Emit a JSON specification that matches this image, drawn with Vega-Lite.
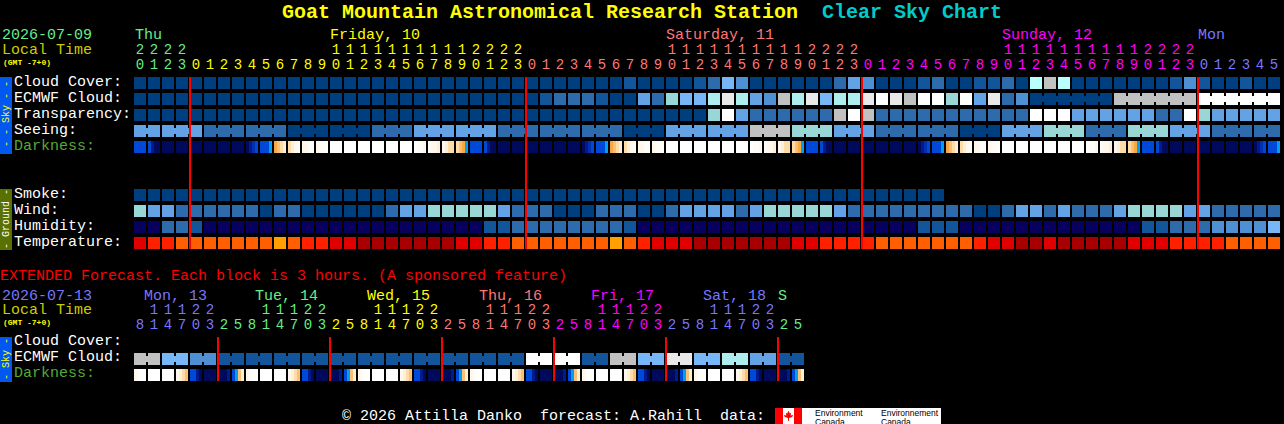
{"$schema":"https://vega.github.io/schema/vega-lite/v6.json","width":1284,"height":424,"padding":0,"autosize":{"type":"none"},"background":"#000000","config":{"view":{"stroke":null}},
"datasets":{
"boxes":[{"h":-10,"h2":-9.143,"l":-0.375,"l2":4.4375,"v":"SB"},{"h":-10,"h2":-9.143,"l":6.625,"l2":10.4375,"v":"SG"},{"h":-10,"h2":-9.143,"l":15.875,"l2":18.6875,"v":"SB"},{"h":45.357,"h2":57.214,"l":20.3125,"l2":21.3125,"v":"w"},{"h":45.357,"h2":45.929,"l":20.3125,"l2":21.3125,"v":"X"},{"h":46.714,"h2":47.286,"l":20.3125,"l2":21.3125,"v":"X"}],
"rules":[{"h":4,"l":-0.375,"l2":10.375,"v":"X"},{"h":28,"l":-0.375,"l2":10.375,"v":"X"},{"h":52,"l":-0.375,"l2":10.375,"v":"X"},{"h":76,"l":-0.375,"l2":10.375,"v":"X"},{"h":6,"l":15.875,"l2":18.625,"v":"X"},{"h":14,"l":15.875,"l2":18.625,"v":"X"},{"h":22,"l":15.875,"l2":18.625,"v":"X"},{"h":30,"l":15.875,"l2":18.625,"v":"X"},{"h":38,"l":15.875,"l2":18.625,"v":"X"},{"h":46,"l":15.875,"l2":18.625,"v":"X"}],
"cells":[
{"h":0,"l":0,"v":"a"},{"h":1,"l":0,"v":"a"},{"h":2,"l":0,"v":"a"},{"h":3,"l":0,"v":"a"},{"h":4,"l":0,"v":"a"},{"h":5,"l":0,"v":"a"},{"h":6,"l":0,"v":"a"},{"h":7,"l":0,"v":"a"},{"h":8,"l":0,"v":"a"},{"h":9,"l":0,"v":"a"},{"h":10,"l":0,"v":"a"},{"h":11,"l":0,"v":"a"},{"h":12,"l":0,"v":"a"},{"h":13,"l":0,"v":"a"},{"h":14,"l":0,"v":"a"},{"h":15,"l":0,"v":"a"},{"h":16,"l":0,"v":"a"},{"h":17,"l":0,"v":"a"},{"h":18,"l":0,"v":"a"},{"h":19,"l":0,"v":"a"},{"h":20,"l":0,"v":"a"},{"h":21,"l":0,"v":"a"},{"h":22,"l":0,"v":"a"},{"h":23,"l":0,"v":"a"},{"h":24,"l":0,"v":"a"},{"h":25,"l":0,"v":"a"},{"h":26,"l":0,"v":"a"},{"h":27,"l":0,"v":"a"},{"h":28,"l":0,"v":"a"},{"h":29,"l":0,"v":"a"},{"h":30,"l":0,"v":"a"},{"h":31,"l":0,"v":"a"},{"h":32,"l":0,"v":"a"},{"h":33,"l":0,"v":"a"},{"h":34,"l":0,"v":"a"},{"h":35,"l":0,"v":"b"},{"h":36,"l":0,"v":"a"},{"h":37,"l":0,"v":"a"},{"h":38,"l":0,"v":"a"},{"h":39,"l":0,"v":"a"},{"h":40,"l":0,"v":"b"},{"h":41,"l":0,"v":"c"},{"h":42,"l":0,"v":"f"},{"h":43,"l":0,"v":"d"},{"h":44,"l":0,"v":"a"},{"h":45,"l":0,"v":"a"},{"h":46,"l":0,"v":"a"},{"h":47,"l":0,"v":"a"},{"h":48,"l":0,"v":"a"},{"h":49,"l":0,"v":"a"},{"h":50,"l":0,"v":"c"},{"h":51,"l":0,"v":"e"},{"h":52,"l":0,"v":"d"},{"h":53,"l":0,"v":"a"},{"h":54,"l":0,"v":"a"},{"h":55,"l":0,"v":"a"},{"h":56,"l":0,"v":"b"},{"h":57,"l":0,"v":"c"},{"h":58,"l":0,"v":"a"},{"h":59,"l":0,"v":"a"},{"h":60,"l":0,"v":"b"},{"h":61,"l":0,"v":"b"},{"h":62,"l":0,"v":"c"},{"h":63,"l":0,"v":"a"},{"h":64,"l":0,"v":"q"},{"h":65,"l":0,"v":"k"},{"h":66,"l":0,"v":"q"},{"h":67,"l":0,"v":"a"},{"h":68,"l":0,"v":"a"},{"h":69,"l":0,"v":"a"},{"h":70,"l":0,"v":"a"},{"h":71,"l":0,"v":"a"},{"h":72,"l":0,"v":"a"},{"h":73,"l":0,"v":"a"},{"h":74,"l":0,"v":"b"},{"h":75,"l":0,"v":"d"},{"h":76,"l":0,"v":"b"},{"h":77,"l":0,"v":"a"},{"h":78,"l":0,"v":"a"},{"h":79,"l":0,"v":"b"},{"h":80,"l":0,"v":"a"},{"h":81,"l":0,"v":"a"},
{"h":0,"l":1,"v":"a"},{"h":1,"l":1,"v":"a"},{"h":2,"l":1,"v":"a"},{"h":3,"l":1,"v":"a"},{"h":4,"l":1,"v":"a"},{"h":5,"l":1,"v":"a"},{"h":6,"l":1,"v":"a"},{"h":7,"l":1,"v":"a"},{"h":8,"l":1,"v":"a"},{"h":9,"l":1,"v":"a"},{"h":10,"l":1,"v":"a"},{"h":11,"l":1,"v":"a"},{"h":12,"l":1,"v":"a"},{"h":13,"l":1,"v":"a"},{"h":14,"l":1,"v":"a"},{"h":15,"l":1,"v":"a"},{"h":16,"l":1,"v":"a"},{"h":17,"l":1,"v":"a"},{"h":18,"l":1,"v":"a"},{"h":19,"l":1,"v":"a"},{"h":20,"l":1,"v":"a"},{"h":21,"l":1,"v":"a"},{"h":22,"l":1,"v":"a"},{"h":23,"l":1,"v":"a"},{"h":24,"l":1,"v":"a"},{"h":25,"l":1,"v":"a"},{"h":26,"l":1,"v":"a"},{"h":27,"l":1,"v":"a"},{"h":28,"l":1,"v":"a"},{"h":29,"l":1,"v":"b"},{"h":30,"l":1,"v":"c"},{"h":31,"l":1,"v":"c"},{"h":32,"l":1,"v":"c"},{"h":33,"l":1,"v":"b"},{"h":34,"l":1,"v":"a"},{"h":35,"l":1,"v":"a"},{"h":36,"l":1,"v":"e"},{"h":37,"l":1,"v":"c"},{"h":38,"l":1,"v":"g"},{"h":39,"l":1,"v":"f"},{"h":40,"l":1,"v":"f"},{"h":41,"l":1,"v":"h"},{"h":42,"l":1,"v":"m"},{"h":43,"l":1,"v":"h"},{"h":44,"l":1,"v":"e"},{"h":45,"l":1,"v":"d"},{"h":46,"l":1,"v":"k"},{"h":47,"l":1,"v":"h"},{"h":48,"l":1,"v":"m"},{"h":49,"l":1,"v":"f"},{"h":50,"l":1,"v":"h"},{"h":51,"l":1,"v":"h"},{"h":52,"l":1,"v":"m"},{"h":53,"l":1,"v":"w"},{"h":54,"l":1,"v":"m"},{"h":55,"l":1,"v":"k"},{"h":56,"l":1,"v":"w"},{"h":57,"l":1,"v":"w"},{"h":58,"l":1,"v":"g"},{"h":59,"l":1,"v":"w"},{"h":60,"l":1,"v":"e"},{"h":61,"l":1,"v":"m"},{"h":62,"l":1,"v":"c"},{"h":63,"l":1,"v":"d"},{"h":64,"l":1,"v":"a","j":1},{"h":65,"l":1,"v":"a","j":1},{"h":66,"l":1,"v":"a","j":1},{"h":67,"l":1,"v":"a","j":1},{"h":68,"l":1,"v":"a","j":1},{"h":69,"l":1,"v":"a"},{"h":70,"l":1,"v":"k","j":1},{"h":71,"l":1,"v":"k","j":1},{"h":72,"l":1,"v":"k","j":1},{"h":73,"l":1,"v":"k","j":1},{"h":74,"l":1,"v":"k","j":1},{"h":75,"l":1,"v":"k"},{"h":76,"l":1,"v":"w","j":1},{"h":77,"l":1,"v":"w","j":1},{"h":78,"l":1,"v":"w","j":1},{"h":79,"l":1,"v":"w","j":1},{"h":80,"l":1,"v":"w","j":1},{"h":81,"l":1,"v":"w"},
{"h":0,"l":2,"v":"a"},{"h":1,"l":2,"v":"a"},{"h":2,"l":2,"v":"a"},{"h":3,"l":2,"v":"a"},{"h":4,"l":2,"v":"a"},{"h":5,"l":2,"v":"a"},{"h":6,"l":2,"v":"a"},{"h":7,"l":2,"v":"a"},{"h":8,"l":2,"v":"a"},{"h":9,"l":2,"v":"a"},{"h":10,"l":2,"v":"a"},{"h":11,"l":2,"v":"a"},{"h":12,"l":2,"v":"a"},{"h":13,"l":2,"v":"a"},{"h":14,"l":2,"v":"a"},{"h":15,"l":2,"v":"a"},{"h":16,"l":2,"v":"a"},{"h":17,"l":2,"v":"a"},{"h":18,"l":2,"v":"a"},{"h":19,"l":2,"v":"a"},{"h":20,"l":2,"v":"a"},{"h":21,"l":2,"v":"a"},{"h":22,"l":2,"v":"a"},{"h":23,"l":2,"v":"a"},{"h":24,"l":2,"v":"a"},{"h":25,"l":2,"v":"a"},{"h":26,"l":2,"v":"a"},{"h":27,"l":2,"v":"a"},{"h":28,"l":2,"v":"a"},{"h":29,"l":2,"v":"a"},{"h":30,"l":2,"v":"a"},{"h":31,"l":2,"v":"a"},{"h":32,"l":2,"v":"a"},{"h":33,"l":2,"v":"a"},{"h":34,"l":2,"v":"a"},{"h":35,"l":2,"v":"a"},{"h":36,"l":2,"v":"a"},{"h":37,"l":2,"v":"a"},{"h":38,"l":2,"v":"a"},{"h":39,"l":2,"v":"a"},{"h":40,"l":2,"v":"a"},{"h":41,"l":2,"v":"g"},{"h":42,"l":2,"v":"w"},{"h":43,"l":2,"v":"e"},{"h":44,"l":2,"v":"c"},{"h":45,"l":2,"v":"c"},{"h":46,"l":2,"v":"c"},{"h":47,"l":2,"v":"c"},{"h":48,"l":2,"v":"c"},{"h":49,"l":2,"v":"c"},{"h":50,"l":2,"v":"k"},{"h":51,"l":2,"v":"w"},{"h":52,"l":2,"v":"k"},{"h":53,"l":2,"v":"c"},{"h":54,"l":2,"v":"c"},{"h":55,"l":2,"v":"c"},{"h":56,"l":2,"v":"c"},{"h":57,"l":2,"v":"c"},{"h":58,"l":2,"v":"c"},{"h":59,"l":2,"v":"c"},{"h":60,"l":2,"v":"c"},{"h":61,"l":2,"v":"c"},{"h":62,"l":2,"v":"c"},{"h":63,"l":2,"v":"c"},{"h":64,"l":2,"v":"w"},{"h":65,"l":2,"v":"w"},{"h":66,"l":2,"v":"w"},{"h":67,"l":2,"v":"e"},{"h":68,"l":2,"v":"e"},{"h":69,"l":2,"v":"e"},{"h":70,"l":2,"v":"e"},{"h":71,"l":2,"v":"e"},{"h":72,"l":2,"v":"e"},{"h":73,"l":2,"v":"c"},{"h":74,"l":2,"v":"c"},{"h":75,"l":2,"v":"w"},{"h":76,"l":2,"v":"g"},{"h":77,"l":2,"v":"e"},{"h":78,"l":2,"v":"e"},{"h":79,"l":2,"v":"e"},{"h":80,"l":2,"v":"e"},{"h":81,"l":2,"v":"e"},
{"h":0,"l":3,"v":"e","j":1},{"h":1,"l":3,"v":"e"},{"h":2,"l":3,"v":"e","j":1},{"h":3,"l":3,"v":"e","j":1},{"h":4,"l":3,"v":"e"},{"h":5,"l":3,"v":"c","j":1},{"h":6,"l":3,"v":"c","j":1},{"h":7,"l":3,"v":"c"},{"h":8,"l":3,"v":"c","j":1},{"h":9,"l":3,"v":"c","j":1},{"h":10,"l":3,"v":"c"},{"h":11,"l":3,"v":"a","j":1},{"h":12,"l":3,"v":"a","j":1},{"h":13,"l":3,"v":"a"},{"h":14,"l":3,"v":"a","j":1},{"h":15,"l":3,"v":"a","j":1},{"h":16,"l":3,"v":"a"},{"h":17,"l":3,"v":"c","j":1},{"h":18,"l":3,"v":"c","j":1},{"h":19,"l":3,"v":"c"},{"h":20,"l":3,"v":"e","j":1},{"h":21,"l":3,"v":"e","j":1},{"h":22,"l":3,"v":"e"},{"h":23,"l":3,"v":"e","j":1},{"h":24,"l":3,"v":"e","j":1},{"h":25,"l":3,"v":"e"},{"h":26,"l":3,"v":"c","j":1},{"h":27,"l":3,"v":"c","j":1},{"h":28,"l":3,"v":"c"},{"h":29,"l":3,"v":"c","j":1},{"h":30,"l":3,"v":"c","j":1},{"h":31,"l":3,"v":"c"},{"h":32,"l":3,"v":"c","j":1},{"h":33,"l":3,"v":"c","j":1},{"h":34,"l":3,"v":"c"},{"h":35,"l":3,"v":"a","j":1},{"h":36,"l":3,"v":"a","j":1},{"h":37,"l":3,"v":"a"},{"h":38,"l":3,"v":"e","j":1},{"h":39,"l":3,"v":"e","j":1},{"h":40,"l":3,"v":"e"},{"h":41,"l":3,"v":"e","j":1},{"h":42,"l":3,"v":"e","j":1},{"h":43,"l":3,"v":"e"},{"h":44,"l":3,"v":"k","j":1},{"h":45,"l":3,"v":"k","j":1},{"h":46,"l":3,"v":"k"},{"h":47,"l":3,"v":"g","j":1},{"h":48,"l":3,"v":"g","j":1},{"h":49,"l":3,"v":"g"},{"h":50,"l":3,"v":"e","j":1},{"h":51,"l":3,"v":"e","j":1},{"h":52,"l":3,"v":"e"},{"h":53,"l":3,"v":"c","j":1},{"h":54,"l":3,"v":"c","j":1},{"h":55,"l":3,"v":"c"},{"h":56,"l":3,"v":"c","j":1},{"h":57,"l":3,"v":"c","j":1},{"h":58,"l":3,"v":"c"},{"h":59,"l":3,"v":"a","j":1},{"h":60,"l":3,"v":"a","j":1},{"h":61,"l":3,"v":"a"},{"h":62,"l":3,"v":"e","j":1},{"h":63,"l":3,"v":"e","j":1},{"h":64,"l":3,"v":"e"},{"h":65,"l":3,"v":"g","j":1},{"h":66,"l":3,"v":"g","j":1},{"h":67,"l":3,"v":"g"},{"h":68,"l":3,"v":"c","j":1},{"h":69,"l":3,"v":"c","j":1},{"h":70,"l":3,"v":"c"},{"h":71,"l":3,"v":"g","j":1},{"h":72,"l":3,"v":"g","j":1},{"h":73,"l":3,"v":"g"},{"h":74,"l":3,"v":"e","j":1},{"h":75,"l":3,"v":"e","j":1},{"h":76,"l":3,"v":"e"},{"h":77,"l":3,"v":"c","j":1},{"h":78,"l":3,"v":"c","j":1},{"h":79,"l":3,"v":"c"},{"h":80,"l":3,"v":"c","j":1},{"h":81,"l":3,"v":"c"},
{"h":0,"l":4,"v":"B"},{"h":2,"l":4,"v":"N"},{"h":3,"l":4,"v":"N"},{"h":4,"l":4,"v":"N"},{"h":5,"l":4,"v":"N"},{"h":6,"l":4,"v":"N"},{"h":7,"l":4,"v":"N"},{"h":14,"l":4,"v":"w"},{"h":15,"l":4,"v":"w"},{"h":16,"l":4,"v":"w"},{"h":17,"l":4,"v":"w"},{"h":18,"l":4,"v":"w"},{"h":19,"l":4,"v":"w"},{"h":24,"l":4,"v":"B"},{"h":26,"l":4,"v":"N"},{"h":27,"l":4,"v":"N"},{"h":28,"l":4,"v":"N"},{"h":29,"l":4,"v":"N"},{"h":30,"l":4,"v":"N"},{"h":31,"l":4,"v":"N"},{"h":38,"l":4,"v":"w"},{"h":39,"l":4,"v":"w"},{"h":40,"l":4,"v":"w"},{"h":41,"l":4,"v":"w"},{"h":42,"l":4,"v":"w"},{"h":43,"l":4,"v":"w"},{"h":48,"l":4,"v":"B"},{"h":50,"l":4,"v":"N"},{"h":51,"l":4,"v":"N"},{"h":52,"l":4,"v":"N"},{"h":53,"l":4,"v":"N"},{"h":54,"l":4,"v":"N"},{"h":55,"l":4,"v":"N"},{"h":62,"l":4,"v":"w"},{"h":63,"l":4,"v":"w"},{"h":64,"l":4,"v":"w"},{"h":65,"l":4,"v":"w"},{"h":66,"l":4,"v":"w"},{"h":67,"l":4,"v":"w"},{"h":72,"l":4,"v":"B"},{"h":74,"l":4,"v":"N"},{"h":75,"l":4,"v":"N"},{"h":76,"l":4,"v":"N"},{"h":77,"l":4,"v":"N"},{"h":78,"l":4,"v":"N"},{"h":79,"l":4,"v":"N"},
{"h":0,"l":7,"v":"a"},{"h":1,"l":7,"v":"a"},{"h":2,"l":7,"v":"a"},{"h":3,"l":7,"v":"a"},{"h":4,"l":7,"v":"a"},{"h":5,"l":7,"v":"a"},{"h":6,"l":7,"v":"a"},{"h":7,"l":7,"v":"a"},{"h":8,"l":7,"v":"a"},{"h":9,"l":7,"v":"a"},{"h":10,"l":7,"v":"a"},{"h":11,"l":7,"v":"a"},{"h":12,"l":7,"v":"a"},{"h":13,"l":7,"v":"a"},{"h":14,"l":7,"v":"a"},{"h":15,"l":7,"v":"a"},{"h":16,"l":7,"v":"a"},{"h":17,"l":7,"v":"a"},{"h":18,"l":7,"v":"a"},{"h":19,"l":7,"v":"a"},{"h":20,"l":7,"v":"a"},{"h":21,"l":7,"v":"a"},{"h":22,"l":7,"v":"a"},{"h":23,"l":7,"v":"a"},{"h":24,"l":7,"v":"a"},{"h":25,"l":7,"v":"a"},{"h":26,"l":7,"v":"a"},{"h":27,"l":7,"v":"a"},{"h":28,"l":7,"v":"a"},{"h":29,"l":7,"v":"a"},{"h":30,"l":7,"v":"a"},{"h":31,"l":7,"v":"a"},{"h":32,"l":7,"v":"a"},{"h":33,"l":7,"v":"a"},{"h":34,"l":7,"v":"a"},{"h":35,"l":7,"v":"a"},{"h":36,"l":7,"v":"a"},{"h":37,"l":7,"v":"a"},{"h":38,"l":7,"v":"a"},{"h":39,"l":7,"v":"a"},{"h":40,"l":7,"v":"a"},{"h":41,"l":7,"v":"a"},{"h":42,"l":7,"v":"a"},{"h":43,"l":7,"v":"a"},{"h":44,"l":7,"v":"a"},{"h":45,"l":7,"v":"a"},{"h":46,"l":7,"v":"a"},{"h":47,"l":7,"v":"a"},{"h":48,"l":7,"v":"a"},{"h":49,"l":7,"v":"a"},{"h":50,"l":7,"v":"a"},{"h":51,"l":7,"v":"a"},{"h":52,"l":7,"v":"a"},{"h":53,"l":7,"v":"a"},{"h":54,"l":7,"v":"a"},{"h":55,"l":7,"v":"a"},{"h":56,"l":7,"v":"a"},{"h":57,"l":7,"v":"a"},
{"h":0,"l":8,"v":"g"},{"h":1,"l":8,"v":"e"},{"h":2,"l":8,"v":"e"},{"h":3,"l":8,"v":"c"},{"h":4,"l":8,"v":"c"},{"h":5,"l":8,"v":"c"},{"h":6,"l":8,"v":"c"},{"h":7,"l":8,"v":"c"},{"h":8,"l":8,"v":"c"},{"h":9,"l":8,"v":"a"},{"h":10,"l":8,"v":"c"},{"h":11,"l":8,"v":"c"},{"h":12,"l":8,"v":"a"},{"h":13,"l":8,"v":"a"},{"h":14,"l":8,"v":"a"},{"h":15,"l":8,"v":"a"},{"h":16,"l":8,"v":"a"},{"h":17,"l":8,"v":"a"},{"h":18,"l":8,"v":"c"},{"h":19,"l":8,"v":"e"},{"h":20,"l":8,"v":"e"},{"h":21,"l":8,"v":"g"},{"h":22,"l":8,"v":"g"},{"h":23,"l":8,"v":"g"},{"h":24,"l":8,"v":"g"},{"h":25,"l":8,"v":"g"},{"h":26,"l":8,"v":"e"},{"h":27,"l":8,"v":"c"},{"h":28,"l":8,"v":"c"},{"h":29,"l":8,"v":"c"},{"h":30,"l":8,"v":"a"},{"h":31,"l":8,"v":"a"},{"h":32,"l":8,"v":"a"},{"h":33,"l":8,"v":"c"},{"h":34,"l":8,"v":"c"},{"h":35,"l":8,"v":"c"},{"h":36,"l":8,"v":"a"},{"h":37,"l":8,"v":"a"},{"h":38,"l":8,"v":"c"},{"h":39,"l":8,"v":"e"},{"h":40,"l":8,"v":"e"},{"h":41,"l":8,"v":"e"},{"h":42,"l":8,"v":"e"},{"h":43,"l":8,"v":"c"},{"h":44,"l":8,"v":"e"},{"h":45,"l":8,"v":"g"},{"h":46,"l":8,"v":"g"},{"h":47,"l":8,"v":"g"},{"h":48,"l":8,"v":"g"},{"h":49,"l":8,"v":"g"},{"h":50,"l":8,"v":"e"},{"h":51,"l":8,"v":"c"},{"h":52,"l":8,"v":"c"},{"h":53,"l":8,"v":"c"},{"h":54,"l":8,"v":"c"},{"h":55,"l":8,"v":"c"},{"h":56,"l":8,"v":"c"},{"h":57,"l":8,"v":"c"},{"h":58,"l":8,"v":"c"},{"h":59,"l":8,"v":"c"},{"h":60,"l":8,"v":"a"},{"h":61,"l":8,"v":"a"},{"h":62,"l":8,"v":"c"},{"h":63,"l":8,"v":"e"},{"h":64,"l":8,"v":"e"},{"h":65,"l":8,"v":"c"},{"h":66,"l":8,"v":"e"},{"h":67,"l":8,"v":"c"},{"h":68,"l":8,"v":"c"},{"h":69,"l":8,"v":"c"},{"h":70,"l":8,"v":"e"},{"h":71,"l":8,"v":"g"},{"h":72,"l":8,"v":"g"},{"h":73,"l":8,"v":"g"},{"h":74,"l":8,"v":"g"},{"h":75,"l":8,"v":"e"},{"h":76,"l":8,"v":"e"},{"h":77,"l":8,"v":"c"},{"h":78,"l":8,"v":"c"},{"h":79,"l":8,"v":"c"},{"h":80,"l":8,"v":"c"},{"h":81,"l":8,"v":"c"},
{"h":0,"l":9,"v":"n"},{"h":1,"l":9,"v":"n"},{"h":2,"l":9,"v":"c"},{"h":3,"l":9,"v":"c"},{"h":4,"l":9,"v":"b"},{"h":5,"l":9,"v":"n"},{"h":6,"l":9,"v":"n"},{"h":7,"l":9,"v":"n"},{"h":8,"l":9,"v":"n"},{"h":9,"l":9,"v":"n"},{"h":10,"l":9,"v":"n"},{"h":11,"l":9,"v":"n"},{"h":12,"l":9,"v":"n"},{"h":13,"l":9,"v":"n"},{"h":14,"l":9,"v":"n"},{"h":15,"l":9,"v":"n"},{"h":16,"l":9,"v":"n"},{"h":17,"l":9,"v":"n"},{"h":18,"l":9,"v":"n"},{"h":19,"l":9,"v":"n"},{"h":20,"l":9,"v":"n"},{"h":21,"l":9,"v":"n"},{"h":22,"l":9,"v":"n"},{"h":23,"l":9,"v":"n"},{"h":24,"l":9,"v":"n"},{"h":25,"l":9,"v":"b"},{"h":26,"l":9,"v":"b"},{"h":27,"l":9,"v":"c"},{"h":28,"l":9,"v":"c"},{"h":29,"l":9,"v":"c"},{"h":30,"l":9,"v":"c"},{"h":31,"l":9,"v":"c"},{"h":32,"l":9,"v":"c"},{"h":33,"l":9,"v":"c"},{"h":34,"l":9,"v":"c"},{"h":35,"l":9,"v":"b"},{"h":36,"l":9,"v":"n"},{"h":37,"l":9,"v":"n"},{"h":38,"l":9,"v":"n"},{"h":39,"l":9,"v":"n"},{"h":40,"l":9,"v":"n"},{"h":41,"l":9,"v":"n"},{"h":42,"l":9,"v":"n"},{"h":43,"l":9,"v":"n"},{"h":44,"l":9,"v":"n"},{"h":45,"l":9,"v":"n"},{"h":46,"l":9,"v":"n"},{"h":47,"l":9,"v":"n"},{"h":48,"l":9,"v":"n"},{"h":49,"l":9,"v":"n"},{"h":50,"l":9,"v":"n"},{"h":51,"l":9,"v":"n"},{"h":52,"l":9,"v":"n"},{"h":53,"l":9,"v":"n"},{"h":54,"l":9,"v":"n"},{"h":55,"l":9,"v":"n"},{"h":56,"l":9,"v":"b"},{"h":57,"l":9,"v":"b"},{"h":58,"l":9,"v":"b"},{"h":59,"l":9,"v":"n"},{"h":60,"l":9,"v":"n"},{"h":61,"l":9,"v":"n"},{"h":62,"l":9,"v":"n"},{"h":63,"l":9,"v":"n"},{"h":64,"l":9,"v":"n"},{"h":65,"l":9,"v":"n"},{"h":66,"l":9,"v":"n"},{"h":67,"l":9,"v":"n"},{"h":68,"l":9,"v":"n"},{"h":69,"l":9,"v":"n"},{"h":70,"l":9,"v":"n"},{"h":71,"l":9,"v":"n"},{"h":72,"l":9,"v":"b"},{"h":73,"l":9,"v":"b"},{"h":74,"l":9,"v":"c"},{"h":75,"l":9,"v":"c"},{"h":76,"l":9,"v":"c"},{"h":77,"l":9,"v":"d"},{"h":78,"l":9,"v":"d"},{"h":79,"l":9,"v":"d"},{"h":80,"l":9,"v":"d"},{"h":81,"l":9,"v":"f"},
{"h":0,"l":10,"v":"s"},{"h":1,"l":10,"v":"t"},{"h":2,"l":10,"v":"t"},{"h":3,"l":10,"v":"u"},{"h":4,"l":10,"v":"u"},{"h":5,"l":10,"v":"u"},{"h":6,"l":10,"v":"u"},{"h":7,"l":10,"v":"u"},{"h":8,"l":10,"v":"u"},{"h":9,"l":10,"v":"u"},{"h":10,"l":10,"v":"x"},{"h":11,"l":10,"v":"u"},{"h":12,"l":10,"v":"t"},{"h":13,"l":10,"v":"t"},{"h":14,"l":10,"v":"s"},{"h":15,"l":10,"v":"s"},{"h":16,"l":10,"v":"r"},{"h":17,"l":10,"v":"r"},{"h":18,"l":10,"v":"r"},{"h":19,"l":10,"v":"r"},{"h":20,"l":10,"v":"r"},{"h":21,"l":10,"v":"r"},{"h":22,"l":10,"v":"r"},{"h":23,"l":10,"v":"s"},{"h":24,"l":10,"v":"s"},{"h":25,"l":10,"v":"t"},{"h":26,"l":10,"v":"t"},{"h":27,"l":10,"v":"u"},{"h":28,"l":10,"v":"u"},{"h":29,"l":10,"v":"u"},{"h":30,"l":10,"v":"u"},{"h":31,"l":10,"v":"u"},{"h":32,"l":10,"v":"u"},{"h":33,"l":10,"v":"u"},{"h":34,"l":10,"v":"x"},{"h":35,"l":10,"v":"u"},{"h":36,"l":10,"v":"t"},{"h":37,"l":10,"v":"s"},{"h":38,"l":10,"v":"s"},{"h":39,"l":10,"v":"s"},{"h":40,"l":10,"v":"r"},{"h":41,"l":10,"v":"r"},{"h":42,"l":10,"v":"r"},{"h":43,"l":10,"v":"r"},{"h":44,"l":10,"v":"r"},{"h":45,"l":10,"v":"r"},{"h":46,"l":10,"v":"r"},{"h":47,"l":10,"v":"s"},{"h":48,"l":10,"v":"s"},{"h":49,"l":10,"v":"t"},{"h":50,"l":10,"v":"t"},{"h":51,"l":10,"v":"t"},{"h":52,"l":10,"v":"t"},{"h":53,"l":10,"v":"u"},{"h":54,"l":10,"v":"u"},{"h":55,"l":10,"v":"u"},{"h":56,"l":10,"v":"u"},{"h":57,"l":10,"v":"u"},{"h":58,"l":10,"v":"u"},{"h":59,"l":10,"v":"u"},{"h":60,"l":10,"v":"t"},{"h":61,"l":10,"v":"s"},{"h":62,"l":10,"v":"s"},{"h":63,"l":10,"v":"r"},{"h":64,"l":10,"v":"r"},{"h":65,"l":10,"v":"s"},{"h":66,"l":10,"v":"r"},{"h":67,"l":10,"v":"r"},{"h":68,"l":10,"v":"r"},{"h":69,"l":10,"v":"r"},{"h":70,"l":10,"v":"r"},{"h":71,"l":10,"v":"s"},{"h":72,"l":10,"v":"s"},{"h":73,"l":10,"v":"s"},{"h":74,"l":10,"v":"t"},{"h":75,"l":10,"v":"t"},{"h":76,"l":10,"v":"t"},{"h":77,"l":10,"v":"t"},{"h":78,"l":10,"v":"u"},{"h":79,"l":10,"v":"u"},{"h":80,"l":10,"v":"u"},{"h":81,"l":10,"v":"u"},
{"h":0,"l":17.25,"v":"k","j":1},{"h":1,"l":17.25,"v":"k"},{"h":2,"l":17.25,"v":"f","j":1},{"h":3,"l":17.25,"v":"f"},{"h":4,"l":17.25,"v":"d","j":1},{"h":5,"l":17.25,"v":"d"},{"h":6,"l":17.25,"v":"b","j":1},{"h":7,"l":17.25,"v":"b"},{"h":8,"l":17.25,"v":"b","j":1},{"h":9,"l":17.25,"v":"b"},{"h":10,"l":17.25,"v":"b","j":1},{"h":11,"l":17.25,"v":"b"},{"h":12,"l":17.25,"v":"b","j":1},{"h":13,"l":17.25,"v":"b"},{"h":14,"l":17.25,"v":"b","j":1},{"h":15,"l":17.25,"v":"b"},{"h":16,"l":17.25,"v":"b","j":1},{"h":17,"l":17.25,"v":"b"},{"h":18,"l":17.25,"v":"b","j":1},{"h":19,"l":17.25,"v":"b"},{"h":20,"l":17.25,"v":"b","j":1},{"h":21,"l":17.25,"v":"b"},{"h":22,"l":17.25,"v":"b","j":1},{"h":23,"l":17.25,"v":"b"},{"h":24,"l":17.25,"v":"b","j":1},{"h":25,"l":17.25,"v":"b"},{"h":26,"l":17.25,"v":"b","j":1},{"h":27,"l":17.25,"v":"b"},{"h":28,"l":17.25,"v":"w","j":1},{"h":29,"l":17.25,"v":"w"},{"h":30,"l":17.25,"v":"w","j":1},{"h":31,"l":17.25,"v":"w"},{"h":32,"l":17.25,"v":"b","j":1},{"h":33,"l":17.25,"v":"b"},{"h":34,"l":17.25,"v":"k","j":1},{"h":35,"l":17.25,"v":"k"},{"h":36,"l":17.25,"v":"f","j":1},{"h":37,"l":17.25,"v":"f"},{"h":38,"l":17.25,"v":"m","j":1},{"h":39,"l":17.25,"v":"m"},{"h":40,"l":17.25,"v":"f","j":1},{"h":41,"l":17.25,"v":"f"},{"h":42,"l":17.25,"v":"h","j":1},{"h":43,"l":17.25,"v":"h"},{"h":44,"l":17.25,"v":"e","j":1},{"h":45,"l":17.25,"v":"e"},{"h":46,"l":17.25,"v":"b","j":1},{"h":47,"l":17.25,"v":"b"},
{"h":1,"l":18.25,"v":"w"},{"h":2,"l":18.25,"v":"w"},{"h":5,"l":18.25,"v":"N"},{"h":9,"l":18.25,"v":"w"},{"h":10,"l":18.25,"v":"w"},{"h":13,"l":18.25,"v":"N"},{"h":17,"l":18.25,"v":"w"},{"h":18,"l":18.25,"v":"w"},{"h":21,"l":18.25,"v":"N"},{"h":25,"l":18.25,"v":"w"},{"h":26,"l":18.25,"v":"w"},{"h":29,"l":18.25,"v":"N"},{"h":33,"l":18.25,"v":"w"},{"h":34,"l":18.25,"v":"w"},{"h":37,"l":18.25,"v":"N"},{"h":41,"l":18.25,"v":"w"},{"h":42,"l":18.25,"v":"w"},{"h":45,"l":18.25,"v":"N"}
],
"subs":[
{"h":1,"l":4,"q":0,"v":"B"},{"h":1,"l":4,"q":1,"v":"D"},{"h":1,"l":4,"q":2,"v":"N"},{"h":1,"l":4,"q":3,"v":"N"},
{"h":8,"l":4,"q":0,"v":"N"},{"h":8,"l":4,"q":1,"v":"D"},{"h":8,"l":4,"q":2,"v":"C"},{"h":8,"l":4,"q":3,"v":"B"},{"h":9,"l":4,"q":0,"v":"B"},{"h":9,"l":4,"q":1,"v":"B"},{"h":9,"l":4,"q":2,"v":"B"},{"h":9,"l":4,"q":3,"v":"L"},{"h":10,"l":4,"q":0,"v":"P"},{"h":10,"l":4,"q":1,"v":"Q"},{"h":10,"l":4,"q":2,"v":"R"},{"h":10,"l":4,"q":3,"v":"S"},{"h":11,"l":4,"q":0,"v":"R"},{"h":11,"l":4,"q":1,"v":"S"},{"h":11,"l":4,"q":2,"v":"T"},{"h":11,"l":4,"q":3,"v":"U"},{"h":12,"l":4,"q":0,"v":"T"},{"h":12,"l":4,"q":1,"v":"T"},{"h":12,"l":4,"q":2,"v":"U"},{"h":12,"l":4,"q":3,"v":"U"},{"h":13,"l":4,"q":0,"v":"T"},{"h":13,"l":4,"q":1,"v":"U"},{"h":13,"l":4,"q":2,"v":"U"},{"h":13,"l":4,"q":3,"v":"w"},
{"h":20,"l":4,"q":0,"v":"w"},{"h":20,"l":4,"q":1,"v":"U"},{"h":20,"l":4,"q":2,"v":"U"},{"h":20,"l":4,"q":3,"v":"T"},{"h":21,"l":4,"q":0,"v":"U"},{"h":21,"l":4,"q":1,"v":"T"},{"h":21,"l":4,"q":2,"v":"T"},{"h":21,"l":4,"q":3,"v":"S"},{"h":22,"l":4,"q":0,"v":"T"},{"h":22,"l":4,"q":1,"v":"S"},{"h":22,"l":4,"q":2,"v":"R"},{"h":22,"l":4,"q":3,"v":"R"},{"h":23,"l":4,"q":0,"v":"R"},{"h":23,"l":4,"q":1,"v":"Q"},{"h":23,"l":4,"q":2,"v":"P"},{"h":23,"l":4,"q":3,"v":"L"},
{"h":25,"l":4,"q":0,"v":"B"},{"h":25,"l":4,"q":1,"v":"D"},{"h":25,"l":4,"q":2,"v":"N"},{"h":25,"l":4,"q":3,"v":"N"},
{"h":32,"l":4,"q":0,"v":"N"},{"h":32,"l":4,"q":1,"v":"D"},{"h":32,"l":4,"q":2,"v":"C"},{"h":32,"l":4,"q":3,"v":"B"},{"h":33,"l":4,"q":0,"v":"B"},{"h":33,"l":4,"q":1,"v":"B"},{"h":33,"l":4,"q":2,"v":"B"},{"h":33,"l":4,"q":3,"v":"L"},{"h":34,"l":4,"q":0,"v":"P"},{"h":34,"l":4,"q":1,"v":"Q"},{"h":34,"l":4,"q":2,"v":"R"},{"h":34,"l":4,"q":3,"v":"S"},{"h":35,"l":4,"q":0,"v":"R"},{"h":35,"l":4,"q":1,"v":"S"},{"h":35,"l":4,"q":2,"v":"T"},{"h":35,"l":4,"q":3,"v":"U"},{"h":36,"l":4,"q":0,"v":"T"},{"h":36,"l":4,"q":1,"v":"T"},{"h":36,"l":4,"q":2,"v":"U"},{"h":36,"l":4,"q":3,"v":"U"},{"h":37,"l":4,"q":0,"v":"T"},{"h":37,"l":4,"q":1,"v":"U"},{"h":37,"l":4,"q":2,"v":"U"},{"h":37,"l":4,"q":3,"v":"w"},
{"h":44,"l":4,"q":0,"v":"w"},{"h":44,"l":4,"q":1,"v":"U"},{"h":44,"l":4,"q":2,"v":"U"},{"h":44,"l":4,"q":3,"v":"T"},{"h":45,"l":4,"q":0,"v":"U"},{"h":45,"l":4,"q":1,"v":"T"},{"h":45,"l":4,"q":2,"v":"T"},{"h":45,"l":4,"q":3,"v":"S"},{"h":46,"l":4,"q":0,"v":"T"},{"h":46,"l":4,"q":1,"v":"S"},{"h":46,"l":4,"q":2,"v":"R"},{"h":46,"l":4,"q":3,"v":"R"},{"h":47,"l":4,"q":0,"v":"R"},{"h":47,"l":4,"q":1,"v":"Q"},{"h":47,"l":4,"q":2,"v":"P"},{"h":47,"l":4,"q":3,"v":"L"},
{"h":49,"l":4,"q":0,"v":"B"},{"h":49,"l":4,"q":1,"v":"D"},{"h":49,"l":4,"q":2,"v":"N"},{"h":49,"l":4,"q":3,"v":"N"},
{"h":56,"l":4,"q":0,"v":"N"},{"h":56,"l":4,"q":1,"v":"D"},{"h":56,"l":4,"q":2,"v":"C"},{"h":56,"l":4,"q":3,"v":"B"},{"h":57,"l":4,"q":0,"v":"B"},{"h":57,"l":4,"q":1,"v":"B"},{"h":57,"l":4,"q":2,"v":"B"},{"h":57,"l":4,"q":3,"v":"L"},{"h":58,"l":4,"q":0,"v":"P"},{"h":58,"l":4,"q":1,"v":"Q"},{"h":58,"l":4,"q":2,"v":"R"},{"h":58,"l":4,"q":3,"v":"S"},{"h":59,"l":4,"q":0,"v":"R"},{"h":59,"l":4,"q":1,"v":"S"},{"h":59,"l":4,"q":2,"v":"T"},{"h":59,"l":4,"q":3,"v":"U"},{"h":60,"l":4,"q":0,"v":"T"},{"h":60,"l":4,"q":1,"v":"T"},{"h":60,"l":4,"q":2,"v":"U"},{"h":60,"l":4,"q":3,"v":"U"},{"h":61,"l":4,"q":0,"v":"T"},{"h":61,"l":4,"q":1,"v":"U"},{"h":61,"l":4,"q":2,"v":"U"},{"h":61,"l":4,"q":3,"v":"w"},
{"h":68,"l":4,"q":0,"v":"w"},{"h":68,"l":4,"q":1,"v":"U"},{"h":68,"l":4,"q":2,"v":"U"},{"h":68,"l":4,"q":3,"v":"T"},{"h":69,"l":4,"q":0,"v":"U"},{"h":69,"l":4,"q":1,"v":"T"},{"h":69,"l":4,"q":2,"v":"T"},{"h":69,"l":4,"q":3,"v":"S"},{"h":70,"l":4,"q":0,"v":"T"},{"h":70,"l":4,"q":1,"v":"S"},{"h":70,"l":4,"q":2,"v":"R"},{"h":70,"l":4,"q":3,"v":"R"},{"h":71,"l":4,"q":0,"v":"R"},{"h":71,"l":4,"q":1,"v":"Q"},{"h":71,"l":4,"q":2,"v":"P"},{"h":71,"l":4,"q":3,"v":"L"},
{"h":73,"l":4,"q":0,"v":"B"},{"h":73,"l":4,"q":1,"v":"D"},{"h":73,"l":4,"q":2,"v":"N"},{"h":73,"l":4,"q":3,"v":"N"},
{"h":80,"l":4,"q":0,"v":"N"},{"h":80,"l":4,"q":1,"v":"D"},{"h":80,"l":4,"q":2,"v":"C"},{"h":80,"l":4,"q":3,"v":"B"},{"h":81,"l":4,"q":0,"v":"B"},{"h":81,"l":4,"q":1,"v":"B"},{"h":81,"l":4,"q":2,"v":"B"},{"h":81,"l":4,"q":3,"v":"L"},
{"h":0,"l":18.25,"q":0,"v":"T"},{"h":0,"l":18.25,"q":1,"v":"U"},{"h":0,"l":18.25,"q":2,"v":"w"},{"h":0,"l":18.25,"q":3,"v":"w"},{"h":3,"l":18.25,"q":0,"v":"T"},{"h":3,"l":18.25,"q":1,"v":"S"},{"h":3,"l":18.25,"q":2,"v":"R"},{"h":3,"l":18.25,"q":3,"v":"Q"},{"h":4,"l":18.25,"q":0,"v":"B"},{"h":4,"l":18.25,"q":1,"v":"B"},{"h":4,"l":18.25,"q":2,"v":"D"},{"h":4,"l":18.25,"q":3,"v":"N"},{"h":6,"l":18.25,"q":0,"v":"N"},{"h":6,"l":18.25,"q":1,"v":"N"},{"h":6,"l":18.25,"q":2,"v":"N"},{"h":6,"l":18.25,"q":3,"v":"D"},{"h":7,"l":18.25,"q":0,"v":"B"},{"h":7,"l":18.25,"q":1,"v":"L"},{"h":7,"l":18.25,"q":2,"v":"Q"},{"h":7,"l":18.25,"q":3,"v":"S"},
{"h":8,"l":18.25,"q":0,"v":"T"},{"h":8,"l":18.25,"q":1,"v":"U"},{"h":8,"l":18.25,"q":2,"v":"w"},{"h":8,"l":18.25,"q":3,"v":"w"},{"h":11,"l":18.25,"q":0,"v":"T"},{"h":11,"l":18.25,"q":1,"v":"S"},{"h":11,"l":18.25,"q":2,"v":"R"},{"h":11,"l":18.25,"q":3,"v":"Q"},{"h":12,"l":18.25,"q":0,"v":"B"},{"h":12,"l":18.25,"q":1,"v":"B"},{"h":12,"l":18.25,"q":2,"v":"D"},{"h":12,"l":18.25,"q":3,"v":"N"},{"h":14,"l":18.25,"q":0,"v":"N"},{"h":14,"l":18.25,"q":1,"v":"N"},{"h":14,"l":18.25,"q":2,"v":"N"},{"h":14,"l":18.25,"q":3,"v":"D"},{"h":15,"l":18.25,"q":0,"v":"B"},{"h":15,"l":18.25,"q":1,"v":"L"},{"h":15,"l":18.25,"q":2,"v":"Q"},{"h":15,"l":18.25,"q":3,"v":"S"},
{"h":16,"l":18.25,"q":0,"v":"T"},{"h":16,"l":18.25,"q":1,"v":"U"},{"h":16,"l":18.25,"q":2,"v":"w"},{"h":16,"l":18.25,"q":3,"v":"w"},{"h":19,"l":18.25,"q":0,"v":"T"},{"h":19,"l":18.25,"q":1,"v":"S"},{"h":19,"l":18.25,"q":2,"v":"R"},{"h":19,"l":18.25,"q":3,"v":"Q"},{"h":20,"l":18.25,"q":0,"v":"B"},{"h":20,"l":18.25,"q":1,"v":"B"},{"h":20,"l":18.25,"q":2,"v":"D"},{"h":20,"l":18.25,"q":3,"v":"N"},{"h":22,"l":18.25,"q":0,"v":"N"},{"h":22,"l":18.25,"q":1,"v":"N"},{"h":22,"l":18.25,"q":2,"v":"N"},{"h":22,"l":18.25,"q":3,"v":"D"},{"h":23,"l":18.25,"q":0,"v":"B"},{"h":23,"l":18.25,"q":1,"v":"L"},{"h":23,"l":18.25,"q":2,"v":"Q"},{"h":23,"l":18.25,"q":3,"v":"S"},
{"h":24,"l":18.25,"q":0,"v":"T"},{"h":24,"l":18.25,"q":1,"v":"U"},{"h":24,"l":18.25,"q":2,"v":"w"},{"h":24,"l":18.25,"q":3,"v":"w"},{"h":27,"l":18.25,"q":0,"v":"T"},{"h":27,"l":18.25,"q":1,"v":"S"},{"h":27,"l":18.25,"q":2,"v":"R"},{"h":27,"l":18.25,"q":3,"v":"Q"},{"h":28,"l":18.25,"q":0,"v":"B"},{"h":28,"l":18.25,"q":1,"v":"B"},{"h":28,"l":18.25,"q":2,"v":"D"},{"h":28,"l":18.25,"q":3,"v":"N"},{"h":30,"l":18.25,"q":0,"v":"N"},{"h":30,"l":18.25,"q":1,"v":"N"},{"h":30,"l":18.25,"q":2,"v":"N"},{"h":30,"l":18.25,"q":3,"v":"D"},{"h":31,"l":18.25,"q":0,"v":"B"},{"h":31,"l":18.25,"q":1,"v":"L"},{"h":31,"l":18.25,"q":2,"v":"Q"},{"h":31,"l":18.25,"q":3,"v":"S"},
{"h":32,"l":18.25,"q":0,"v":"T"},{"h":32,"l":18.25,"q":1,"v":"U"},{"h":32,"l":18.25,"q":2,"v":"w"},{"h":32,"l":18.25,"q":3,"v":"w"},{"h":35,"l":18.25,"q":0,"v":"T"},{"h":35,"l":18.25,"q":1,"v":"S"},{"h":35,"l":18.25,"q":2,"v":"R"},{"h":35,"l":18.25,"q":3,"v":"Q"},{"h":36,"l":18.25,"q":0,"v":"B"},{"h":36,"l":18.25,"q":1,"v":"B"},{"h":36,"l":18.25,"q":2,"v":"D"},{"h":36,"l":18.25,"q":3,"v":"N"},{"h":38,"l":18.25,"q":0,"v":"N"},{"h":38,"l":18.25,"q":1,"v":"N"},{"h":38,"l":18.25,"q":2,"v":"N"},{"h":38,"l":18.25,"q":3,"v":"D"},{"h":39,"l":18.25,"q":0,"v":"B"},{"h":39,"l":18.25,"q":1,"v":"L"},{"h":39,"l":18.25,"q":2,"v":"Q"},{"h":39,"l":18.25,"q":3,"v":"S"},
{"h":40,"l":18.25,"q":0,"v":"T"},{"h":40,"l":18.25,"q":1,"v":"U"},{"h":40,"l":18.25,"q":2,"v":"w"},{"h":40,"l":18.25,"q":3,"v":"w"},{"h":43,"l":18.25,"q":0,"v":"T"},{"h":43,"l":18.25,"q":1,"v":"S"},{"h":43,"l":18.25,"q":2,"v":"R"},{"h":43,"l":18.25,"q":3,"v":"Q"},{"h":44,"l":18.25,"q":0,"v":"B"},{"h":44,"l":18.25,"q":1,"v":"B"},{"h":44,"l":18.25,"q":2,"v":"D"},{"h":44,"l":18.25,"q":3,"v":"N"},{"h":46,"l":18.25,"q":0,"v":"N"},{"h":46,"l":18.25,"q":1,"v":"N"},{"h":46,"l":18.25,"q":2,"v":"N"},{"h":46,"l":18.25,"q":3,"v":"D"},{"h":47,"l":18.25,"q":0,"v":"B"},{"h":47,"l":18.25,"q":1,"v":"L"},{"h":47,"l":18.25,"q":2,"v":"Q"},{"h":47,"l":18.25,"q":3,"v":"S"}
],
"labels":[
{"h":-9.857,"l":-3,"t":"2026-07-09","v":"G"},{"h":-9.857,"l":-2.0625,"t":"Local Time","v":"LT"},
{"h":-0.357,"l":-3,"t":"Thu","v":"G"},{"h":13.571,"l":-3,"t":"Friday, 10","v":"Y"},{"h":37.571,"l":-3,"t":"Saturday, 11","v":"O"},{"h":61.571,"l":-3,"t":"Sunday, 12","v":"M"},{"h":75.571,"l":-3,"t":"Mon","v":"E"},
{"h":-9,"l":-0.0625,"t":"Cloud Cover:","v":"w"},{"h":-9,"l":0.9375,"t":"ECMWF Cloud:","v":"w"},{"h":-9,"l":1.9375,"t":"Transparency:","v":"w"},{"h":-9,"l":2.9375,"t":"Seeing:","v":"w"},{"h":-9,"l":3.9375,"t":"Darkness:","v":"DK"},
{"h":-9,"l":6.9375,"t":"Smoke:","v":"w"},{"h":-9,"l":7.9375,"t":"Wind:","v":"w"},{"h":-9,"l":8.9375,"t":"Humidity:","v":"w"},{"h":-9,"l":9.9375,"t":"Temperature:","v":"w"},
{"h":-10,"l":12.0625,"t":"EXTENDED Forecast. Each block is 3 hours. (A sponsored feature)","v":"X"},
{"h":-9.857,"l":13.3125,"t":"2026-07-13","v":"E"},{"h":-9.857,"l":14.1875,"t":"Local Time","v":"LT"},
{"h":0.286,"l":13.3125,"t":"Mon, 13","v":"E"},{"h":8.214,"l":13.3125,"t":"Tue, 14","v":"G"},{"h":16.214,"l":13.3125,"t":"Wed, 15","v":"Y"},{"h":24.214,"l":13.3125,"t":"Thu, 16","v":"O"},{"h":32.214,"l":13.3125,"t":"Fri, 17","v":"M"},{"h":40.214,"l":13.3125,"t":"Sat, 18","v":"E"},{"h":45.571,"l":13.3125,"t":"S","v":"G"},
{"h":-9,"l":16.125,"t":"Cloud Cover:","v":"w"},{"h":-9,"l":17.125,"t":"ECMWF Cloud:","v":"w"},{"h":-9,"l":18.125,"t":"Darkness:","v":"DK"},
{"h":14.429,"l":20.8125,"t":"© 2026 Attilla Danko","v":"w"},{"h":28.571,"l":20.8125,"t":"forecast: A.Rahill","v":"w"},{"h":41.429,"l":20.8125,"t":"data:","v":"w"}
],
"titles":[{"h":10.143,"l":-4.4375,"t":"Goat Mountain Astronomical Research Station","v":"Y"},{"h":48.714,"l":-4.4375,"t":"Clear Sky Chart","v":"CY"}],
"small":[{"h":-9.786,"l":-1.25,"t":"(GMT -7+0)","v":"Y"},{"h":-9.786,"l":15,"t":"(GMT -7+0)","v":"Y"}],
"side":[{"h":-9.571,"l":1.9375,"t":"- - Sky - -","v":"Y"},{"h":-9.571,"l":8.5,"t":"- Ground -","v":"w"},{"h":-9.571,"l":17.25,"t":"- Sky -","v":"Y"}],
"logo":[{"h":48.214,"l":20.65,"t":"Environment","v":"K"},{"h":48.214,"l":21.2,"t":"Canada","v":"K"},{"h":52.929,"l":20.65,"t":"Environnement","v":"K"},{"h":52.929,"l":21.2,"t":"Canada","v":"K"}],
"leaf":[{"h":46.321,"l":20.8125,"v":"X"}],
"digits":[
{"h":0,"l":-2.0625,"t":"2","v":"G"},{"h":1,"l":-2.0625,"t":"2","v":"G"},{"h":2,"l":-2.0625,"t":"2","v":"G"},{"h":3,"l":-2.0625,"t":"2","v":"G"},
{"h":14,"l":-2.0625,"t":"1","v":"Y"},{"h":15,"l":-2.0625,"t":"1","v":"Y"},{"h":16,"l":-2.0625,"t":"1","v":"Y"},{"h":17,"l":-2.0625,"t":"1","v":"Y"},{"h":18,"l":-2.0625,"t":"1","v":"Y"},{"h":19,"l":-2.0625,"t":"1","v":"Y"},{"h":20,"l":-2.0625,"t":"1","v":"Y"},{"h":21,"l":-2.0625,"t":"1","v":"Y"},{"h":22,"l":-2.0625,"t":"1","v":"Y"},{"h":23,"l":-2.0625,"t":"1","v":"Y"},{"h":24,"l":-2.0625,"t":"2","v":"Y"},{"h":25,"l":-2.0625,"t":"2","v":"Y"},{"h":26,"l":-2.0625,"t":"2","v":"Y"},{"h":27,"l":-2.0625,"t":"2","v":"Y"},
{"h":38,"l":-2.0625,"t":"1","v":"O"},{"h":39,"l":-2.0625,"t":"1","v":"O"},{"h":40,"l":-2.0625,"t":"1","v":"O"},{"h":41,"l":-2.0625,"t":"1","v":"O"},{"h":42,"l":-2.0625,"t":"1","v":"O"},{"h":43,"l":-2.0625,"t":"1","v":"O"},{"h":44,"l":-2.0625,"t":"1","v":"O"},{"h":45,"l":-2.0625,"t":"1","v":"O"},{"h":46,"l":-2.0625,"t":"1","v":"O"},{"h":47,"l":-2.0625,"t":"1","v":"O"},{"h":48,"l":-2.0625,"t":"2","v":"O"},{"h":49,"l":-2.0625,"t":"2","v":"O"},{"h":50,"l":-2.0625,"t":"2","v":"O"},{"h":51,"l":-2.0625,"t":"2","v":"O"},
{"h":62,"l":-2.0625,"t":"1","v":"M"},{"h":63,"l":-2.0625,"t":"1","v":"M"},{"h":64,"l":-2.0625,"t":"1","v":"M"},{"h":65,"l":-2.0625,"t":"1","v":"M"},{"h":66,"l":-2.0625,"t":"1","v":"M"},{"h":67,"l":-2.0625,"t":"1","v":"M"},{"h":68,"l":-2.0625,"t":"1","v":"M"},{"h":69,"l":-2.0625,"t":"1","v":"M"},{"h":70,"l":-2.0625,"t":"1","v":"M"},{"h":71,"l":-2.0625,"t":"1","v":"M"},{"h":72,"l":-2.0625,"t":"2","v":"M"},{"h":73,"l":-2.0625,"t":"2","v":"M"},{"h":74,"l":-2.0625,"t":"2","v":"M"},{"h":75,"l":-2.0625,"t":"2","v":"M"},
{"h":0,"l":-1.125,"t":"0","v":"G"},{"h":1,"l":-1.125,"t":"1","v":"G"},{"h":2,"l":-1.125,"t":"2","v":"G"},{"h":3,"l":-1.125,"t":"3","v":"G"},
{"h":4,"l":-1.125,"t":"0","v":"Y"},{"h":5,"l":-1.125,"t":"1","v":"Y"},{"h":6,"l":-1.125,"t":"2","v":"Y"},{"h":7,"l":-1.125,"t":"3","v":"Y"},{"h":8,"l":-1.125,"t":"4","v":"Y"},{"h":9,"l":-1.125,"t":"5","v":"Y"},{"h":10,"l":-1.125,"t":"6","v":"Y"},{"h":11,"l":-1.125,"t":"7","v":"Y"},{"h":12,"l":-1.125,"t":"8","v":"Y"},{"h":13,"l":-1.125,"t":"9","v":"Y"},{"h":14,"l":-1.125,"t":"0","v":"Y"},{"h":15,"l":-1.125,"t":"1","v":"Y"},{"h":16,"l":-1.125,"t":"2","v":"Y"},{"h":17,"l":-1.125,"t":"3","v":"Y"},{"h":18,"l":-1.125,"t":"4","v":"Y"},{"h":19,"l":-1.125,"t":"5","v":"Y"},{"h":20,"l":-1.125,"t":"6","v":"Y"},{"h":21,"l":-1.125,"t":"7","v":"Y"},{"h":22,"l":-1.125,"t":"8","v":"Y"},{"h":23,"l":-1.125,"t":"9","v":"Y"},{"h":24,"l":-1.125,"t":"0","v":"Y"},{"h":25,"l":-1.125,"t":"1","v":"Y"},{"h":26,"l":-1.125,"t":"2","v":"Y"},{"h":27,"l":-1.125,"t":"3","v":"Y"},
{"h":28,"l":-1.125,"t":"0","v":"O"},{"h":29,"l":-1.125,"t":"1","v":"O"},{"h":30,"l":-1.125,"t":"2","v":"O"},{"h":31,"l":-1.125,"t":"3","v":"O"},{"h":32,"l":-1.125,"t":"4","v":"O"},{"h":33,"l":-1.125,"t":"5","v":"O"},{"h":34,"l":-1.125,"t":"6","v":"O"},{"h":35,"l":-1.125,"t":"7","v":"O"},{"h":36,"l":-1.125,"t":"8","v":"O"},{"h":37,"l":-1.125,"t":"9","v":"O"},{"h":38,"l":-1.125,"t":"0","v":"O"},{"h":39,"l":-1.125,"t":"1","v":"O"},{"h":40,"l":-1.125,"t":"2","v":"O"},{"h":41,"l":-1.125,"t":"3","v":"O"},{"h":42,"l":-1.125,"t":"4","v":"O"},{"h":43,"l":-1.125,"t":"5","v":"O"},{"h":44,"l":-1.125,"t":"6","v":"O"},{"h":45,"l":-1.125,"t":"7","v":"O"},{"h":46,"l":-1.125,"t":"8","v":"O"},{"h":47,"l":-1.125,"t":"9","v":"O"},{"h":48,"l":-1.125,"t":"0","v":"O"},{"h":49,"l":-1.125,"t":"1","v":"O"},{"h":50,"l":-1.125,"t":"2","v":"O"},{"h":51,"l":-1.125,"t":"3","v":"O"},
{"h":52,"l":-1.125,"t":"0","v":"M"},{"h":53,"l":-1.125,"t":"1","v":"M"},{"h":54,"l":-1.125,"t":"2","v":"M"},{"h":55,"l":-1.125,"t":"3","v":"M"},{"h":56,"l":-1.125,"t":"4","v":"M"},{"h":57,"l":-1.125,"t":"5","v":"M"},{"h":58,"l":-1.125,"t":"6","v":"M"},{"h":59,"l":-1.125,"t":"7","v":"M"},{"h":60,"l":-1.125,"t":"8","v":"M"},{"h":61,"l":-1.125,"t":"9","v":"M"},{"h":62,"l":-1.125,"t":"0","v":"M"},{"h":63,"l":-1.125,"t":"1","v":"M"},{"h":64,"l":-1.125,"t":"2","v":"M"},{"h":65,"l":-1.125,"t":"3","v":"M"},{"h":66,"l":-1.125,"t":"4","v":"M"},{"h":67,"l":-1.125,"t":"5","v":"M"},{"h":68,"l":-1.125,"t":"6","v":"M"},{"h":69,"l":-1.125,"t":"7","v":"M"},{"h":70,"l":-1.125,"t":"8","v":"M"},{"h":71,"l":-1.125,"t":"9","v":"M"},{"h":72,"l":-1.125,"t":"0","v":"M"},{"h":73,"l":-1.125,"t":"1","v":"M"},{"h":74,"l":-1.125,"t":"2","v":"M"},{"h":75,"l":-1.125,"t":"3","v":"M"},
{"h":76,"l":-1.125,"t":"0","v":"E"},{"h":77,"l":-1.125,"t":"1","v":"E"},{"h":78,"l":-1.125,"t":"2","v":"E"},{"h":79,"l":-1.125,"t":"3","v":"E"},{"h":80,"l":-1.125,"t":"4","v":"E"},{"h":81,"l":-1.125,"t":"5","v":"E"},
{"h":1,"l":14.1875,"t":"1","v":"E"},{"h":2,"l":14.1875,"t":"1","v":"E"},{"h":3,"l":14.1875,"t":"1","v":"E"},{"h":4,"l":14.1875,"t":"2","v":"E"},{"h":5,"l":14.1875,"t":"2","v":"E"},
{"h":9,"l":14.1875,"t":"1","v":"G"},{"h":10,"l":14.1875,"t":"1","v":"G"},{"h":11,"l":14.1875,"t":"1","v":"G"},{"h":12,"l":14.1875,"t":"2","v":"G"},{"h":13,"l":14.1875,"t":"2","v":"G"},
{"h":17,"l":14.1875,"t":"1","v":"Y"},{"h":18,"l":14.1875,"t":"1","v":"Y"},{"h":19,"l":14.1875,"t":"1","v":"Y"},{"h":20,"l":14.1875,"t":"2","v":"Y"},{"h":21,"l":14.1875,"t":"2","v":"Y"},
{"h":25,"l":14.1875,"t":"1","v":"O"},{"h":26,"l":14.1875,"t":"1","v":"O"},{"h":27,"l":14.1875,"t":"1","v":"O"},{"h":28,"l":14.1875,"t":"2","v":"O"},{"h":29,"l":14.1875,"t":"2","v":"O"},
{"h":33,"l":14.1875,"t":"1","v":"M"},{"h":34,"l":14.1875,"t":"1","v":"M"},{"h":35,"l":14.1875,"t":"1","v":"M"},{"h":36,"l":14.1875,"t":"2","v":"M"},{"h":37,"l":14.1875,"t":"2","v":"M"},
{"h":41,"l":14.1875,"t":"1","v":"E"},{"h":42,"l":14.1875,"t":"1","v":"E"},{"h":43,"l":14.1875,"t":"1","v":"E"},{"h":44,"l":14.1875,"t":"2","v":"E"},{"h":45,"l":14.1875,"t":"2","v":"E"},
{"h":0,"l":15.125,"t":"8","v":"E"},{"h":1,"l":15.125,"t":"1","v":"E"},{"h":2,"l":15.125,"t":"4","v":"E"},{"h":3,"l":15.125,"t":"7","v":"E"},{"h":4,"l":15.125,"t":"0","v":"E"},{"h":5,"l":15.125,"t":"3","v":"E"},
{"h":6,"l":15.125,"t":"2","v":"G"},{"h":7,"l":15.125,"t":"5","v":"G"},{"h":8,"l":15.125,"t":"8","v":"G"},{"h":9,"l":15.125,"t":"1","v":"G"},{"h":10,"l":15.125,"t":"4","v":"G"},{"h":11,"l":15.125,"t":"7","v":"G"},{"h":12,"l":15.125,"t":"0","v":"G"},{"h":13,"l":15.125,"t":"3","v":"G"},
{"h":14,"l":15.125,"t":"2","v":"Y"},{"h":15,"l":15.125,"t":"5","v":"Y"},{"h":16,"l":15.125,"t":"8","v":"Y"},{"h":17,"l":15.125,"t":"1","v":"Y"},{"h":18,"l":15.125,"t":"4","v":"Y"},{"h":19,"l":15.125,"t":"7","v":"Y"},{"h":20,"l":15.125,"t":"0","v":"Y"},{"h":21,"l":15.125,"t":"3","v":"Y"},
{"h":22,"l":15.125,"t":"2","v":"O"},{"h":23,"l":15.125,"t":"5","v":"O"},{"h":24,"l":15.125,"t":"8","v":"O"},{"h":25,"l":15.125,"t":"1","v":"O"},{"h":26,"l":15.125,"t":"4","v":"O"},{"h":27,"l":15.125,"t":"7","v":"O"},{"h":28,"l":15.125,"t":"0","v":"O"},{"h":29,"l":15.125,"t":"3","v":"O"},
{"h":30,"l":15.125,"t":"2","v":"M"},{"h":31,"l":15.125,"t":"5","v":"M"},{"h":32,"l":15.125,"t":"8","v":"M"},{"h":33,"l":15.125,"t":"1","v":"M"},{"h":34,"l":15.125,"t":"4","v":"M"},{"h":35,"l":15.125,"t":"7","v":"M"},{"h":36,"l":15.125,"t":"0","v":"M"},{"h":37,"l":15.125,"t":"3","v":"M"},
{"h":38,"l":15.125,"t":"2","v":"E"},{"h":39,"l":15.125,"t":"5","v":"E"},{"h":40,"l":15.125,"t":"8","v":"E"},{"h":41,"l":15.125,"t":"1","v":"E"},{"h":42,"l":15.125,"t":"4","v":"E"},{"h":43,"l":15.125,"t":"7","v":"E"},{"h":44,"l":15.125,"t":"0","v":"E"},{"h":45,"l":15.125,"t":"3","v":"E"},
{"h":46,"l":15.125,"t":"2","v":"G"},{"h":47,"l":15.125,"t":"5","v":"G"}
]},
"encoding":{"x":{"field":"h","type":"quantitative","axis":null,"scale":{"domain":[-10,81.7142857],"nice":false,"zero":false}},"y":{"field":"l","type":"quantitative","axis":null,"scale":{"domain":[-5.1875,21.3125],"reverse":true,"nice":false,"zero":false}},"color":{"field":"v","type":"nominal","legend":null,"scale":{"domain":["a","b","c","d","e","f","g","h","q","k","m","w","n","r","s","t","u","x","B","C","D","N","L","P","Q","R","S","T","U","G","Y","O","M","E","LT","DK","X","CY","SB","SG","K"],"range":["#003F7F","#13559A","#2D6BAD","#4F8FD3","#63A3E5","#77B7F7","#99D6D6","#ADEDED","#B9FFFF","#C1C1C1","#E9E9E9","#FFFFFF","#08005F","#A80000","#E00000","#FF2000","#FF5F00","#FFA000","#0048D8","#0030B0","#001C8C","#000A5C","#00A0F0","#F8A840","#FCC070","#FEDCA8","#FFEEDA","#FFF6EC","#FFFBF6","#66EE88","#FFFF00","#FF7777","#FF00FF","#7777FF","#CCCC00","#55AA33","#FF0000","#00CCCC","#0058F0","#5A7000","#000000"]}}},
"layer":[
{"data":{"name":"boxes"},"mark":{"type":"rect"},"encoding":{"x2":{"field":"h2"},"y2":{"field":"l2"}}},
{"data":{"name":"cells"},"mark":{"type":"rect","width":12,"height":12}},
{"data":{"name":"cells"},"transform":[{"filter":"datum.j==1"}],"mark":{"type":"rect","width":2,"height":6,"xOffset":7}},
{"data":{"name":"subs"},"transform":[{"filter":"datum.q==0"}],"mark":{"type":"rect","width":3,"height":12,"xOffset":-4.5}},
{"data":{"name":"subs"},"transform":[{"filter":"datum.q==1"}],"mark":{"type":"rect","width":3,"height":12,"xOffset":-1.5}},
{"data":{"name":"subs"},"transform":[{"filter":"datum.q==2"}],"mark":{"type":"rect","width":3,"height":12,"xOffset":1.5}},
{"data":{"name":"subs"},"transform":[{"filter":"datum.q==3"}],"mark":{"type":"rect","width":3,"height":12,"xOffset":4.5}},
{"data":{"name":"rules"},"mark":{"type":"rule","strokeWidth":2,"xOffset":-6},"encoding":{"y2":{"field":"l2"}}},
{"data":{"name":"labels"},"mark":{"type":"text","font":"Liberation Mono","fontSize":15,"align":"left","baseline":"middle","yOffset":-1},"encoding":{"text":{"field":"t"}}},
{"data":{"name":"digits"},"mark":{"type":"text","font":"Liberation Mono","fontSize":14,"align":"center","baseline":"middle"},"encoding":{"text":{"field":"t"}}},
{"data":{"name":"titles"},"mark":{"type":"text","font":"Liberation Mono","fontWeight":"bold","fontSize":20,"align":"left","baseline":"middle"},"encoding":{"text":{"field":"t"}}},
{"data":{"name":"small"},"mark":{"type":"text","font":"Liberation Mono","fontWeight":"bold","fontSize":8,"align":"left","baseline":"middle"},"encoding":{"text":{"field":"t"}}},
{"data":{"name":"side"},"mark":{"type":"text","font":"Liberation Mono","fontSize":10,"angle":270,"align":"center","baseline":"middle"},"encoding":{"text":{"field":"t"}}},
{"data":{"name":"logo"},"mark":{"type":"text","font":"Liberation Sans","fontSize":8.5,"align":"left","baseline":"middle"},"encoding":{"text":{"field":"t"}}},
{"data":{"name":"leaf"},"mark":{"type":"point","filled":true,"opacity":1,"size":110,"shape":"M0,-1 L.25,-.5 L.5,-.6 L.4,-.1 L.9,-.2 L.7,.2 L.1,.4 L.1,.9 L-.1,.9 L-.1,.4 L-.7,.2 L-.9,-.2 L-.4,-.1 L-.5,-.6 L-.25,-.5 Z"}}
]}
